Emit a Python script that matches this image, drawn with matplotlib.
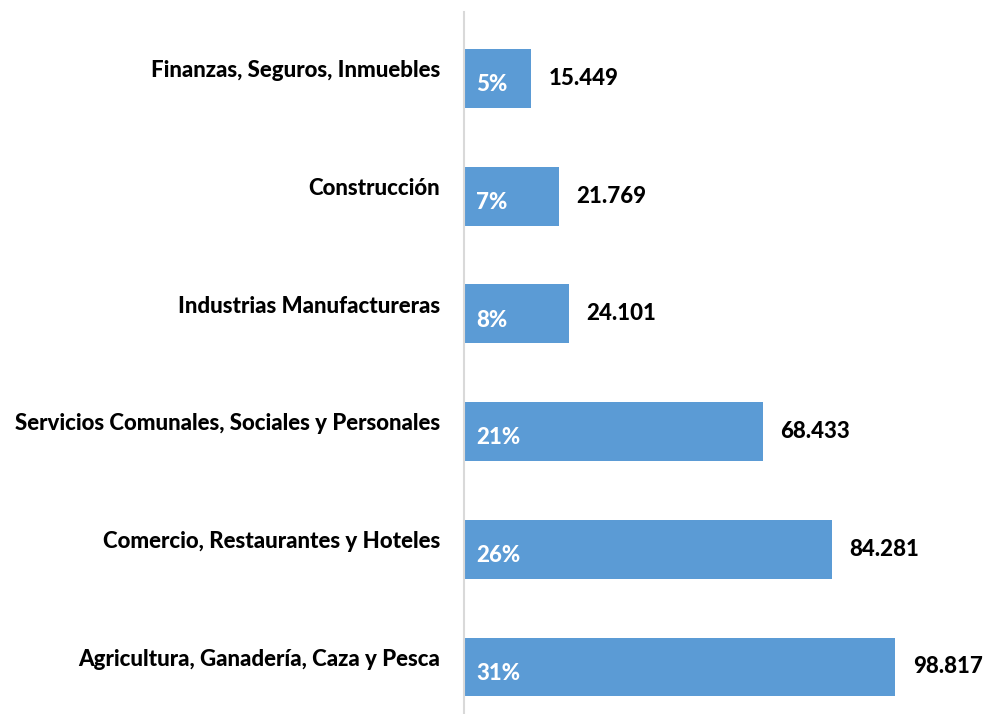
import matplotlib

matplotlib.use("Agg")
import matplotlib.pyplot as plt

# data, bottom to top as drawn
sectors = [
    "Agricultura, Ganadería, Caza y Pesca",
    "Comercio, Restaurantes y Hoteles",
    "Servicios Comunales, Sociales y Personales",
    "Industrias Manufactureras",
    "Construcción",
    "Finanzas, Seguros, Inmuebles",
]
values = [98817, 84281, 68433, 24101, 21769, 15449]
shares = [31, 26, 21, 8, 7, 5]

C_BAR = "#5B9BD5"
C_AXIS = "#D9D9D9"
FONT = ["Lato", "DejaVu Sans"]
FS = 16

W, H = 985, 714
fig = plt.figure(figsize=(W / 100, H / 100), dpi=100)
fig.patch.set_facecolor("white")

x0_px = 463.5
ax = fig.add_axes([x0_px / W, 0, 1 - x0_px / W, (H - 12) / H])
px_per_unit = 4.37
ax.set_xlim(0, (W - x0_px) / px_per_unit)
ax.set_ylim(-0.40, 5.565)

vals_k = [v / 1000 for v in values]
pos = list(range(len(sectors)))
ax.barh(pos, vals_k, height=0.5, color=C_BAR, zorder=2)

for i, (v, s, name) in enumerate(zip(vals_k, shares, sectors)):
    ax.annotate(f"{s}%", (0, i), xytext=(9, -4.5), textcoords="offset points",
                ha="left", va="center", fontsize=FS, fontweight="black",
                color="white", family=FONT, zorder=3)
    txt = f"{values[i]:,}".replace(",", ".")
    ax.annotate(txt, (v, i), xytext=(12.5, 0), textcoords="offset points",
                ha="left", va="center", fontsize=FS, fontweight="black",
                color="black", family=FONT)
    ax.annotate(name, (0, i), xytext=(-17, 5.5), textcoords="offset points",
                ha="right", va="center", fontsize=FS, fontweight="black",
                color="black", family=FONT, annotation_clip=False)

for side in ["top", "right", "bottom"]:
    ax.spines[side].set_visible(False)
ax.spines["left"].set_color(C_AXIS)
ax.spines["left"].set_linewidth(1.5)
ax.set_xticks([])
ax.set_yticks([])
ax.patch.set_alpha(0)

fig.savefig("out.png", dpi=100, facecolor="white")
